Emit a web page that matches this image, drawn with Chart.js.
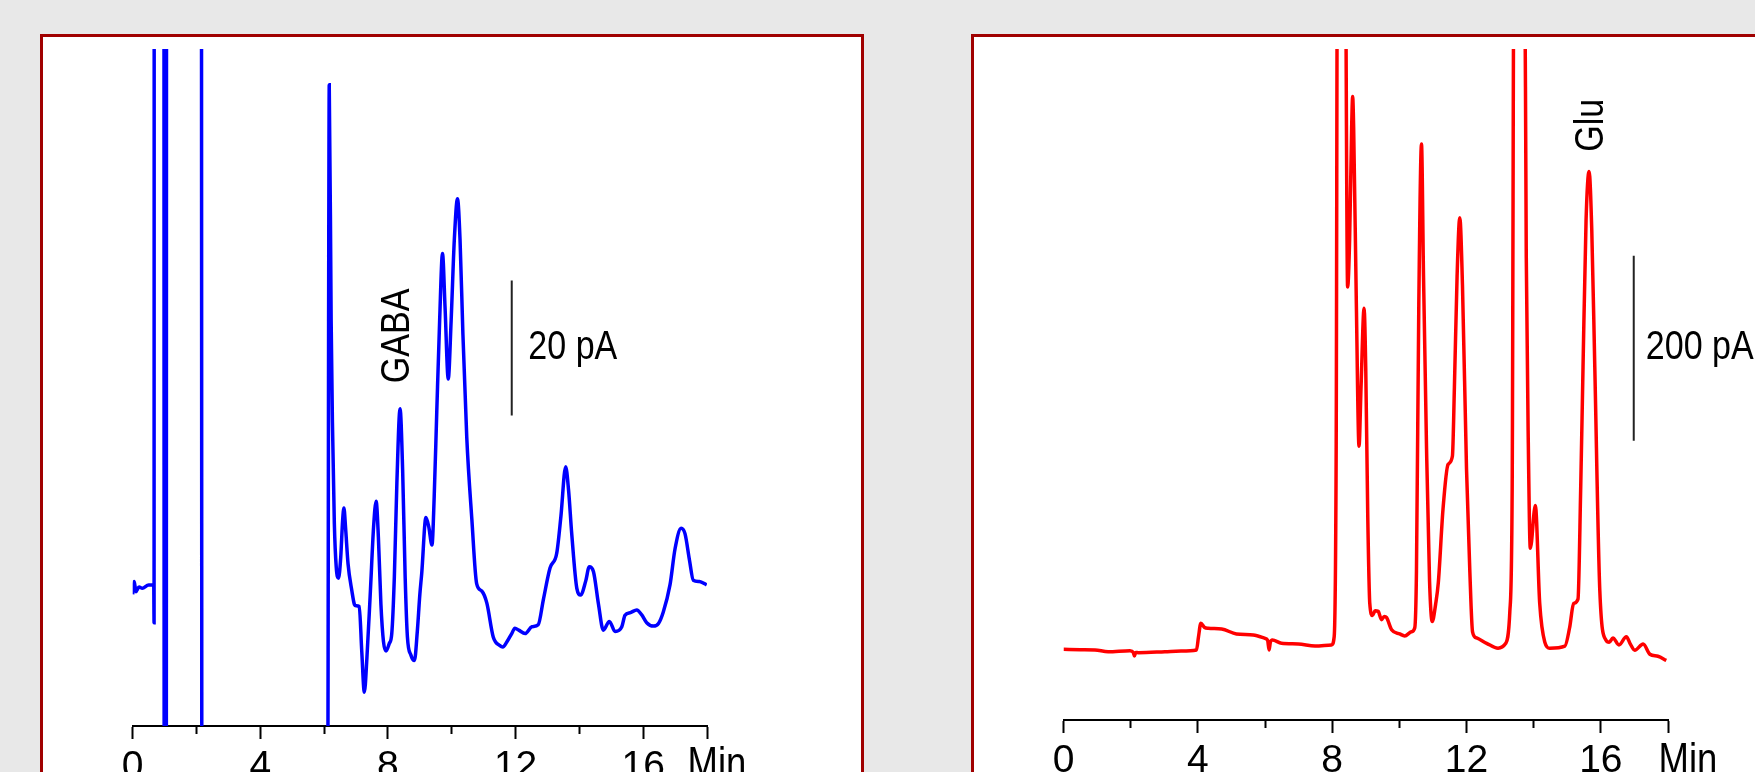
<!DOCTYPE html>
<html>
<head>
<meta charset="utf-8">
<script src="https://cdn.jsdelivr.net/npm/chart.js@4.4.1/dist/chart.umd.min.js"></script>
<style>
  html, body { margin: 0; padding: 0; }
  body { width: 1755px; height: 772px; background: #e8e8e8; overflow: hidden; position: relative; }
  .panel { position: absolute; background: #fff; border: 3px solid #a00000; box-sizing: border-box; }
  #panelL { left: 40px; top: 34px; width: 824px; height: 800px; }
  #panelR { left: 971px; top: 34px; width: 900px; height: 800px; }
  canvas { position: absolute; }
  #gaba { left: 100px; top: 40px; }
  #glu { left: 1030px; top: 40px; }
</style>
</head>
<body>
<div class="panel" id="panelL"></div>
<div class="panel" id="panelR"></div>
<canvas id="gaba" width="700" height="760"></canvas>
<canvas id="glu" width="725" height="760"></canvas>
<script>
// retention time (min) and detector current (pA)
const gabaTime = [
  0.00, 0.05, 0.10, 0.20, 0.30, 0.50, 0.62, 0.66, 0.67, 0.68, 0.97, 0.99, 1.05, 1.07, 2.14, 2.17,
  6.10, 6.14, 6.16, 6.22, 6.26, 6.32, 6.38, 6.45, 6.52, 6.58, 6.62, 6.67, 6.75, 6.87, 6.95, 7.00,
  7.10, 7.18, 7.26, 7.34, 7.45, 7.55, 7.63, 7.70, 7.78, 7.86, 7.94, 8.04, 8.12, 8.20, 8.28, 8.38,
  8.46, 8.54, 8.61, 8.72, 8.83, 8.92, 9.00, 9.06, 9.19, 9.28, 9.38, 9.45, 9.53, 9.62, 9.71, 9.79,
  9.89, 9.98, 10.08, 10.18, 10.26, 10.35, 10.47, 10.63, 10.78, 10.94, 11.10, 11.30, 11.51, 11.60,
  11.72, 11.88, 11.98, 12.10, 12.30, 12.51, 12.71, 12.87, 13.08, 13.29, 13.42, 13.57, 13.66, 13.76,
  13.92, 14.04, 14.20, 14.31, 14.44, 14.60, 14.75, 14.94, 15.12, 15.33, 15.43, 15.60, 15.80, 15.95,
  16.11, 16.32, 16.48, 16.63, 16.84, 17.00, 17.19, 17.31, 17.45, 17.57, 17.76, 17.99
];
const gabaCurrent = [
  19.5, 21.4, 19.9, 20.6, 20.4, 20.9, 20.9, 20.8, 15.3, 300, 300, -50, -50, 300, 300, -50,
  -50, 60, 95, 60, 45, 30, 23.5, 21.9, 25, 30.5, 32.3, 29.5, 24, 20, 18, 17.8,
  17.7, 11, 5.0, 10, 20, 29.5, 33.3, 28, 18, 12.5, 11.1, 12.2, 13.7, 22, 36, 47.0,
  38, 22, 13.2, 10.5, 9.7, 14, 19.5, 22.7, 30.9, 29.5, 26.8, 34, 46.5, 60, 70.0, 62,
  51.4, 60, 72, 78.1, 72, 58, 42.8, 30.6, 21.1, 20.0, 18.2, 13.2, 11.9, 11.7,
  12.4, 13.7, 14.5, 14.2, 13.7, 14.7, 15.0, 18.7, 23.4, 25.6, 31, 38.4, 35, 28.5,
  20.4, 19.4, 21.5, 23.6, 22.9, 18, 14.2, 15.5, 14.0, 14.7, 16.4, 16.8, 17.2, 16.5,
  15.3, 14.8, 15.2, 16.9, 20.9, 26.3, 29.3, 28.5, 24.6, 21.6, 21.4, 20.9
];

const gluTime = [
  0.00, 0.50, 0.94, 1.33, 1.98, 2.08, 2.11, 2.15, 2.23, 3.02, 3.50, 3.96, 4.02, 4.09, 4.20, 4.31,
  4.71, 5.15, 5.65, 6.00, 6.08, 6.12, 6.16, 6.22, 6.49, 6.99, 7.49, 7.98, 8.06, 8.12, 8.16, 8.38,
  8.46, 8.52, 8.58, 8.61, 8.64, 8.72, 8.80, 8.86, 8.95, 9.00, 9.06, 9.12, 9.20, 9.28, 9.37, 9.47,
  9.55, 9.62, 9.77, 10.01, 10.16, 10.36, 10.46, 10.51, 10.58, 10.66, 10.72, 10.81, 10.90, 10.98,
  11.08, 11.16, 11.30, 11.45, 11.58, 11.64, 11.72, 11.80, 11.88, 12.00, 12.10, 12.18, 12.30, 12.60,
  12.94, 13.17, 13.29, 13.36, 13.42, 13.72, 13.78, 13.84, 13.90, 14.05, 14.18, 14.33, 14.48, 14.93,
  15.07, 15.19, 15.32, 15.40, 15.47, 15.56, 15.65, 15.73, 15.82, 15.97, 16.15, 16.25, 16.36, 16.54,
  16.76, 16.88, 17.01, 17.26, 17.46, 17.70, 17.95
];
const gluCurrent = [
  76.4, 76, 75.7, 73.8, 74.9, 73, 69.2, 73, 72.8, 73.8, 74.5, 75.7, 90, 104.5, 100, 99.1,
  98.4, 93.0, 91.9, 88.3, 86, 75.7, 84, 86.5, 82.9, 82.2, 80.0, 81.1, 90, 300, 900, 900,
  468, 520, 640, 674, 640, 450, 296, 360, 445, 380, 220, 126, 113, 118, 117.4, 108.5,
  112, 110.7, 97.5, 93.1, 90.9, 95.4, 99.7, 161, 450, 622.6, 480, 293.8, 150, 106.4,
  125, 148.2, 227.7, 276.2, 285.1, 360, 480, 543.1, 470, 271.8, 160, 95.4, 88.7, 82.9,
  77.6, 82.9, 117, 250, 900, 900, 500, 300, 185.7, 232, 126, 84.3, 77.6, 79.9,
  99.7, 126, 130.6, 250, 382, 540, 593.1, 530, 382, 139.5, 86.5, 84, 88.7, 81.2,
  90, 82, 75.4, 82.1, 71.1, 68.9, 64.4
];

// vertical scale bars: [time, current]
const gabaBar = [[11.88, 46], [11.88, 66]];
const gluBar = [[16.98, 302], [16.98, 502]];

const majorTicks = [0, 4, 8, 12, 16];

const FONT = "'Liberation Sans', Arial, sans-serif";

// annotation text, squeezed along the writing direction like the original figure
const textNotes = {
  id: 'textNotes',
  afterDatasetsDraw(chart, args, opts) {
    const ctx = chart.ctx;
    const xs = chart.scales.x, ys = chart.scales.y;
    (opts.items || []).forEach(function (n) {
      ctx.save();
      ctx.font = (n.size || 41) + 'px ' + FONT;
      ctx.fillStyle = '#000';
      ctx.textAlign = n.align || 'center';
      ctx.textBaseline = n.baseline || 'middle';
      const px = xs.getPixelForValue(n.x) + (n.dx || 0);
      const py = n.y !== undefined ? ys.getPixelForValue(n.y) : chart.chartArea.bottom + n.dy;
      ctx.translate(px, py);
      if (n.rotate) ctx.rotate(n.rotate);
      ctx.scale(0.83, 1);
      ctx.fillText(n.text, 0, 0);
      ctx.restore();
    });
  }
};

function makeChart(canvasId, times, values, bar, color, yMax, padding, notes) {
  const ctx = document.getElementById(canvasId).getContext('2d');
  return new Chart(ctx, {
    type: 'line',
    data: {
      datasets: [{
        data: times.map(function (t, i) { return { x: t, y: values[i] }; }),
        borderColor: color,
        borderWidth: 3.5,
        pointRadius: 0,
        cubicInterpolationMode: 'monotone',
        fill: false
      }, {
        data: bar.map(function (p) { return { x: p[0], y: p[1] }; }),
        borderColor: '#222',
        borderWidth: 2,
        pointRadius: 0
      }]
    },
    options: {
      responsive: false,
      animation: false,
      events: [],
      layout: { padding: padding },
      plugins: {
        legend: { display: false },
        tooltip: { enabled: false },
        textNotes: { items: notes }
      },
      scales: {
        x: {
          type: 'linear',
          min: 0,
          max: 18,
          afterFit: function (scale) { scale.height = 60; },
          border: { display: true, color: '#000', width: 2 },
          grid: {
            drawOnChartArea: false,
            drawTicks: true,
            tickLength: 13,
            tickWidth: 2,
            tickColor: '#000',
            tickBorderDash: function (c) {
              const v = c.tick ? c.tick.value : 0;
              return (v % 4 === 0 || v === 18) ? [] : [7, 30];
            }
          },
          ticks: {
            stepSize: 2,
            autoSkip: false,
            maxRotation: 0,
            padding: 5,
            color: '#000',
            font: { family: FONT, size: 39 },
            callback: function (v) { return majorTicks.indexOf(v) >= 0 ? String(v) : ''; }
          }
        },
        y: {
          display: false,
          min: 0,
          max: yMax
        }
      }
    },
    plugins: [textNotes]
  });
}

makeChart('gaba', gabaTime, gabaCurrent, gabaBar, '#0000ff', 100.3,
  { left: 32.7, right: 93, top: 9, bottom: 14 },
  [
    { text: 'GABA', x: 8.32, y: 57.8, rotate: -Math.PI / 2 },
    { text: '20 pA', x: 12.4, y: 56.1, align: 'left' },
    { text: 'Min', x: 18, dx: 10, dy: 52, size: 44, baseline: 'alphabetic' }
  ]);

makeChart('glu', gluTime, gluCurrent, gluBar, '#ff0000', 725.4,
  { left: 33.5, right: 87, top: 9, bottom: 20 },
  [
    { text: 'Glu', x: 15.73, y: 643, rotate: -Math.PI / 2 },
    { text: '200 pA', x: 17.34, y: 402, align: 'left' },
    { text: 'Min', x: 18, dx: 20, dy: 54, size: 44, baseline: 'alphabetic' }
  ]);
</script>
</body>
</html>
